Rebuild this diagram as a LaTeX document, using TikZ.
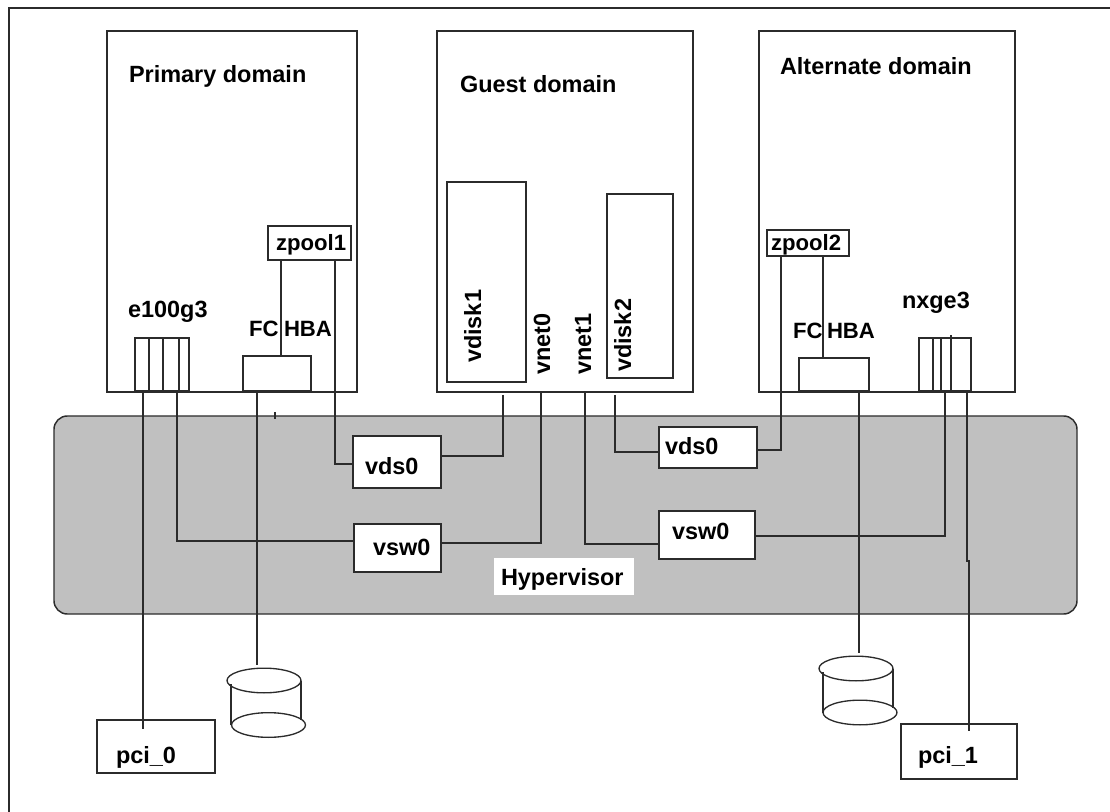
\documentclass[tikz,border=0pt]{standalone}
\usepackage{fontspec}
\setmainfont{Liberation Sans}
\usetikzlibrary{shapes.geometric}
\definecolor{ink}{HTML}{2B2B2B}
\definecolor{hyper}{HTML}{C0C0C0}
\tikzset{
  boxnode/.style={draw=ink,line width=1.1pt,inner sep=0pt,outer sep=0pt,fill=white},
  conn/.style={draw=ink,line width=1.1pt},
  txt/.style={inner sep=0pt,outer sep=0pt,anchor=base west,font=\fontsize{17.6}{20}\selectfont\bfseries,text=black},
  txts/.style={txt,font=\fontsize{16.6}{20}\selectfont\bfseries},
  disc/.style={ellipse,draw=ink,line width=1pt,inner sep=0pt,outer sep=0pt,minimum width=55.5pt,minimum height=18.5pt},
}
\newcommand\rsBox[6][]{%
  \pgfmathsetmacro\rsW{(#5-#3)*0.75}\pgfmathsetmacro\rsH{(#6-#4)*0.75}%
  \pgfmathsetmacro\rsX{(#5+#3)/2}\pgfmathsetmacro\rsY{(#6+#4)/2}%
  \node[boxnode,minimum width=\rsW pt,minimum height=\rsH pt,#1] (#2) at (\rsX,\rsY) {};}
\begin{document}
\begin{tikzpicture}[x=0.75pt,y=-0.75pt]
\useasboundingbox (0,0) rectangle (1110,812);
% outer frame (only its left and top sides lie inside the picture)
\coordinate (fa) at (9,812); \coordinate (fb) at (9,8); \coordinate (fc) at (1110,8);
\draw[conn] (fa) -- (fb) -- (fc);
% hypervisor
\rsBox[fill=hyper,rounded corners=10pt]{hv}{54}{416}{1077}{614}
\coordinate (t1) at (275,412); \coordinate (t2) at (275,419);
\draw[conn] (t1) -- (t2);
\node[fill=white,inner sep=0pt,minimum width=105pt,minimum height=27.75pt] (hvbg) at (564,576.5) {};
\node[txt] (hvt) at (501,585) {Hypervisor};
% domains
\rsBox{pd}{107}{31}{357}{392}
\rsBox{gd}{437}{31}{693}{392}
\rsBox{ad}{759}{31}{1015}{392}
\node[txt] (pdt) at (129,83) {Primary domain};
\node[txt] (gdt) at (460,92.5) {Guest domain};
\node[txt] (adt) at (780,75) {Alternate domain};
% connectors
\coordinate (v1s) at (503,395); \coordinate (v2s) at (615,395);
\coordinate (d1t) at (257,665); \coordinate (d2t) at (859,653);
\coordinate (n1) at (967,561); \coordinate (n2) at (969,561);
% inner boxes
\rsBox{zp1}{268}{226}{351}{260}
\rsBox{zp2}{767}{230}{849}{256}
\rsBox{e1}{135}{338}{189}{391}
\rsBox{hba1}{243}{356}{311}{391}
\rsBox{hba2}{799}{358}{869}{391}
\rsBox{nx}{919}{338}{971}{391}
\rsBox{vd1}{447}{182}{526}{382}
\rsBox{vd2}{607}{194}{673}{378}
\rsBox{vds1}{353}{436}{441}{488}
\rsBox{vds2}{659}{427}{757}{468}
\rsBox{vsw1}{354}{524}{441}{572}
\rsBox{vsw2}{659}{511}{755}{559}
\rsBox[fill=none]{pci0}{97}{720}{215}{773}
\rsBox[fill=none]{pci1}{901}{724}{1017}{779}
% port dividers
\draw[conn] (e1.north -| 149,0) -- (e1.south -| 149,0);
\draw[conn] (e1.north -| 163,0) -- (e1.south -| 163,0);
\draw[conn] (e1.north -| 179,0) -- (e1.south -| 179,0);
\draw[conn] (nx.north -| 933,0) -- (nx.south -| 933,0);
\draw[conn] (nx.north -| 941,0) -- (nx.south -| 941,0);
\draw[conn] ([yshift=2.2pt]nx.north -| 951,0) -- (nx.south -| 951,0);
% links
\draw[conn] (zp1.south -| 281,0) -- (hba1.north -| 281,0);
\draw[conn] (zp2.south -| 823,0) -- (hba2.north -| 823,0);
\draw[conn] (zp1.south -| 335,0) -- (335,464) -- (vds1.west |- 0,464);
\draw[conn] (v1s) -- (503,456) -- (vds1.east |- 0,456);
\draw[conn] (v2s) -- (615,452) -- (vds2.west |- 0,452);
\draw[conn] (zp2.south -| 781,0) -- (781,450) -- (vds2.east |- 0,450);
\draw[conn] (e1.south -| 177,0) -- (177,541) -- (vsw1.west |- 0,541);
\draw[conn] (gd.south -| 541,0) -- (541,543) -- (vsw1.east |- 0,543);
\draw[conn] (gd.south -| 585,0) -- (585,544) -- (vsw2.west |- 0,544);
\draw[conn] (nx.south -| 945,0) -- (945,536) -- (vsw2.east |- 0,536);
\draw[conn] (e1.south -| 143,0) -- (143,729);
\draw[conn] (nx.south -| 967,0) -- (n1) -- (n2) -- (969,731);
\draw[conn] (hba1.south -| 257,0) -- (d1t);
\draw[conn] (hba2.south -| 859,0) -- (d2t);
% disks
\node[disc] (c1a) at (264,680.5) {};
\node[disc] (c1b) at (268.5,725) {};
\draw[conn] (231,684) -- (c1b.west -| 231,0);
\draw[conn] (c1a.east) -- (301,720);
\node[disc] (c2a) at (856,668.5) {};
\node[disc] (c2b) at (860,712.5) {};
\draw[conn] (823,672) -- (c2b.west -| 823,0);
\draw[conn] (c2a.east) -- (893,708);
% labels
\node[txts] (zp1t) at (276,251) {zpool1};
\node[txts] (zp2t) at (771,251) {zpool2};
\node[txt] (e1t) at (128,318) {e100g3};
\node[txts] (fc1) at (249,337) {FC};
\node[txts] (hb1) at (284,337) {HBA};
\node[txts] (fc2) at (793,339) {FC};
\node[txts] (hb2) at (827,339) {HBA};
\node[txt] (nxt) at (902,309) {nxge3};
\node[txt] (vds1t) at (365,475) {vds0};
\node[txt] (vds2t) at (665,455) {vds0};
\node[txt] (vsw1t) at (373,555) {vsw0};
\node[txt] (vsw2t) at (672,539) {vsw0};
\node[txt] (pci0t) at (116,763) {pci\_0};
\node[txt] (pci1t) at (918,763) {pci\_1};
\node[txt,rotate=90] (vd1t) at (481,363) {vdisk1};
\node[txt,rotate=90] (vd2t) at (631,372) {vdisk2};
\node[txt,rotate=90] (vn0t) at (550,375) {vnet0};
\node[txt,rotate=90] (vn1t) at (591,375) {vnet1};
\end{tikzpicture}
\end{document}
